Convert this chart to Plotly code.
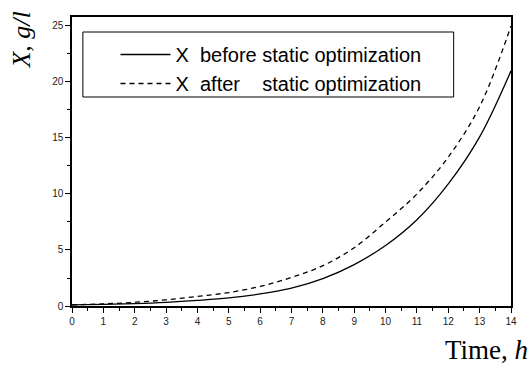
import plotly.graph_objects as go

time_h = [0, 1, 2, 3, 4, 5, 6, 7, 8, 9, 10, 11, 12, 13, 14]
x_before = [0.10, 0.15, 0.22, 0.33, 0.50, 0.72, 1.08, 1.60, 2.45, 3.70, 5.40, 7.70, 10.90, 15.10, 21.00]
x_after = [0.10, 0.19, 0.33, 0.55, 0.85, 1.20, 1.75, 2.55, 3.60, 5.20, 7.50, 10.00, 13.30, 17.80, 25.00]
nb = "\u00a0"
names = ["X" + nb * 2 + "before static optimization",
         "X" + nb * 2 + "after" + nb * 4 + "static optimization"]

L, R, T, B = 72, 516, 17, 306
W, H = 529, 365
def px(x):
    return (x - L) / (R - L)
def py(y):
    return (B - y) / (B - T)

fig = go.Figure()
fig.add_trace(go.Scatter(x=time_h, y=x_before, mode="lines", name=names[0],
                         line=dict(color="black", width=1.3, shape="spline"),
                         legendgroup="a"))
fig.add_trace(go.Scatter(x=time_h, y=x_after, mode="lines", name=names[1],
                         line=dict(color="black", width=1.3, dash="5px,4px", shape="spline"),
                         legendgroup="b"))

axis_common = dict(showgrid=False, zeroline=False, showline=True, linecolor="black",
                   linewidth=1.5, mirror=True, ticks="outside", ticklen=5,
                   tickwidth=1.2, tickcolor="black",
                   tickfont=dict(family="Liberation Sans, Arial", size=10, color="#222"))

fig.update_layout(
    width=W, height=H,
    margin=dict(l=L, r=W - R, t=T, b=H - B),
    paper_bgcolor="white", plot_bgcolor="white",
    xaxis=dict(range=[0, 14], dtick=1, tick0=0,
               minor=dict(dtick=0.5, ticklen=3, tickcolor="black", ticks="outside"),
               **axis_common),
    yaxis=dict(range=[0, 25.8], dtick=5, tick0=0,
               minor=dict(dtick=2.5, ticklen=3, tickcolor="black", ticks="outside"),
               **axis_common),
    legend=dict(x=px(116), y=py(35), xanchor="left", yanchor="top",
                bgcolor="rgba(0,0,0,0)", borderwidth=0,
                font=dict(family="Liberation Sans, Arial", size=20, color="black"),
                itemwidth=50, tracegroupgap=0),
    showlegend=True,
)

fig.add_shape(type="rect", xref="paper", yref="paper",
              x0=px(83), x1=px(458), y0=py(97), y1=py(32),
              line=dict(color="black", width=1))

fig.add_annotation(text="<i>X</i>, <i>g/l</i>", xref="paper", yref="paper",
                   x=px(20), y=py(40), showarrow=False, textangle=-90,
                   xanchor="center", yanchor="middle",
                   font=dict(family="Liberation Serif, Times New Roman", size=26, color="black"))
fig.add_annotation(text="Time, <i>h</i>", xref="paper", yref="paper",
                   x=px(535), y=py(350), showarrow=False,
                   xanchor="right", yanchor="middle",
                   font=dict(family="Liberation Serif, Times New Roman", size=27, color="black"))

fig.write_html("out.html")
